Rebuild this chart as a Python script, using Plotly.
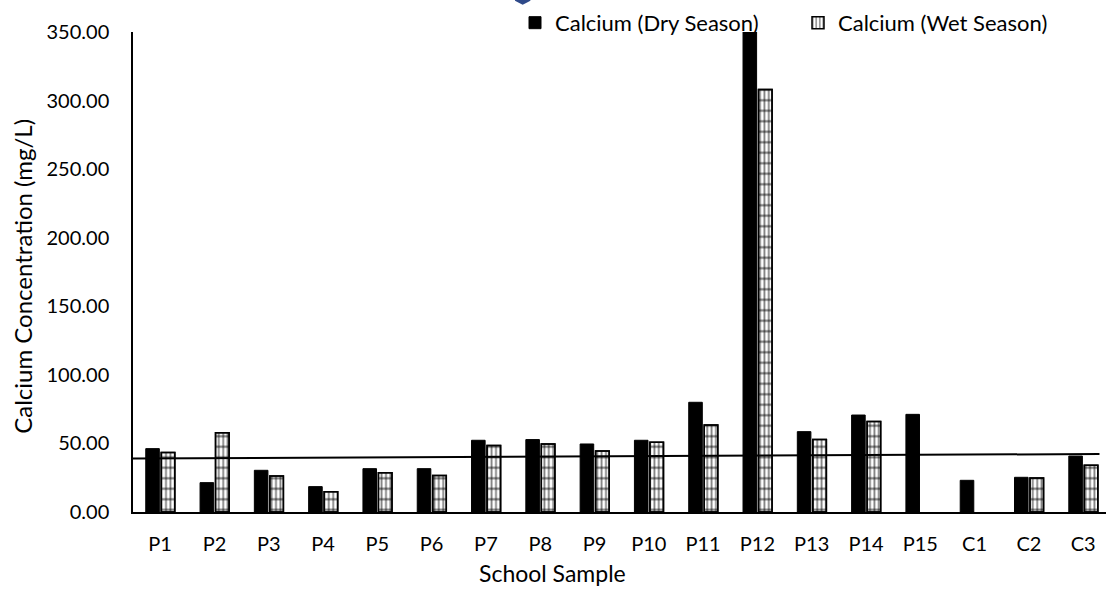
import plotly.graph_objects as go

# School water samples and their calcium concentrations (mg/L)
schools = ["P1", "P2", "P3", "P4", "P5", "P6", "P7", "P8", "P9", "P10",
           "P11", "P12", "P13", "P14", "P15", "C1", "C2", "C3"]
dry_season = [46.2, 21.4, 30.4, 18.5, 31.6, 31.6, 52.3, 52.8, 49.6, 52.3,
              80.0, 350.0, 58.6, 70.7, 71.2, 23.1, 25.3, 40.8]
wet_season = [43.3, 57.8, 26.3, 14.8, 28.7, 26.7, 48.4, 49.6, 44.5, 50.8,
              63.4, 308.0, 52.8, 65.9, None, None, 24.8, 34.0]

# reference line drawn across the samples (start / end values)
ref_line_x = [-0.5, 17.3]
ref_line_y = [39.0, 42.3]

y_ticks = [0, 50, 100, 150, 200, 250, 300, 350]

FONT = "Lato"
BAR_W = 0.25

fig = go.Figure()
fig.add_trace(go.Bar(
    x=schools, y=dry_season, name="Calcium (Dry Season)",
    offset=-0.265, width=BAR_W, legend="legend",
    marker=dict(color="black", line=dict(color="black", width=1)),
))
# wet season bars: vertical grid lines, then horizontal grid lines on top
fig.add_trace(go.Bar(
    x=schools, y=wet_season, name="Calcium (Wet Season)",
    offset=0.02, width=BAR_W, legend="legend2",
    marker=dict(color="white", line=dict(color="black", width=1.5),
                pattern=dict(shape="|", size=4.4, solidity=0.4,
                             fgcolor="black", bgcolor="white")),
))
fig.add_trace(go.Bar(
    x=schools, y=wet_season, name="Calcium (Wet Season)",
    offset=0.02, width=BAR_W, showlegend=False, hoverinfo="skip",
    marker=dict(color="rgba(0,0,0,0)", line=dict(color="black", width=1.5),
                pattern=dict(shape="-", size=10.5, solidity=0.2,
                             fgcolor="black", bgcolor="rgba(0,0,0,0)")),
))

fig.add_shape(type="line", xref="x", yref="y",
              x0=ref_line_x[0], y0=ref_line_y[0],
              x1=ref_line_x[1], y1=ref_line_y[1],
              line=dict(color="black", width=2), layer="above")

# small decorative mark at the top edge
fig.add_shape(type="path", xref="paper", yref="paper",
              path="M 0.393 1.067 L 0.408 1.067 L 0.4005 1.059 Z",
              fillcolor="#2f4a8a", line=dict(color="#2f4a8a", width=2))

# axis titles
fig.add_annotation(text="School Sample", xref="paper", yref="paper",
                   x=(552 - 133) / 973, y=-0.128, showarrow=False,
                   xanchor="center", yanchor="middle",
                   font=dict(family=FONT, size=23, color="black"))
fig.add_annotation(text="Calcium Concentration (mg/L)", xref="paper",
                   yref="paper", x=(23 - 133) / 973, y=0.49, textangle=-90,
                   showarrow=False, xanchor="center", yanchor="middle",
                   font=dict(family=FONT, size=24, color="black"))

legend_common = dict(orientation="h", yanchor="middle", y=1.019,
                     xanchor="left", font=dict(size=22),
                     bgcolor="rgba(0,0,0,0)", borderwidth=0,
                     itemwidth=30)

fig.update_layout(
    width=1106, height=589,
    margin=dict(l=133, r=0, t=32, b=77),
    paper_bgcolor="white", plot_bgcolor="white",
    barmode="overlay",
    font=dict(family=FONT, size=20, color="black"),
    showlegend=True,
    legend=dict(x=(515 - 133) / 973, **legend_common),
    legend2=dict(x=(798 - 133) / 973, **legend_common),
    xaxis=dict(range=[-0.5, 17.42], showline=True, linecolor="black",
               linewidth=2, ticks="", showgrid=False, zeroline=False,
               ticklabelstandoff=13),
    yaxis=dict(range=[0, 350], tickvals=y_ticks, tickformat=".2f",
               showline=True, linecolor="black", linewidth=1.5, ticks="",
               showgrid=False, zeroline=False, ticklabelstandoff=18),
)

fig.write_html("out.html")
